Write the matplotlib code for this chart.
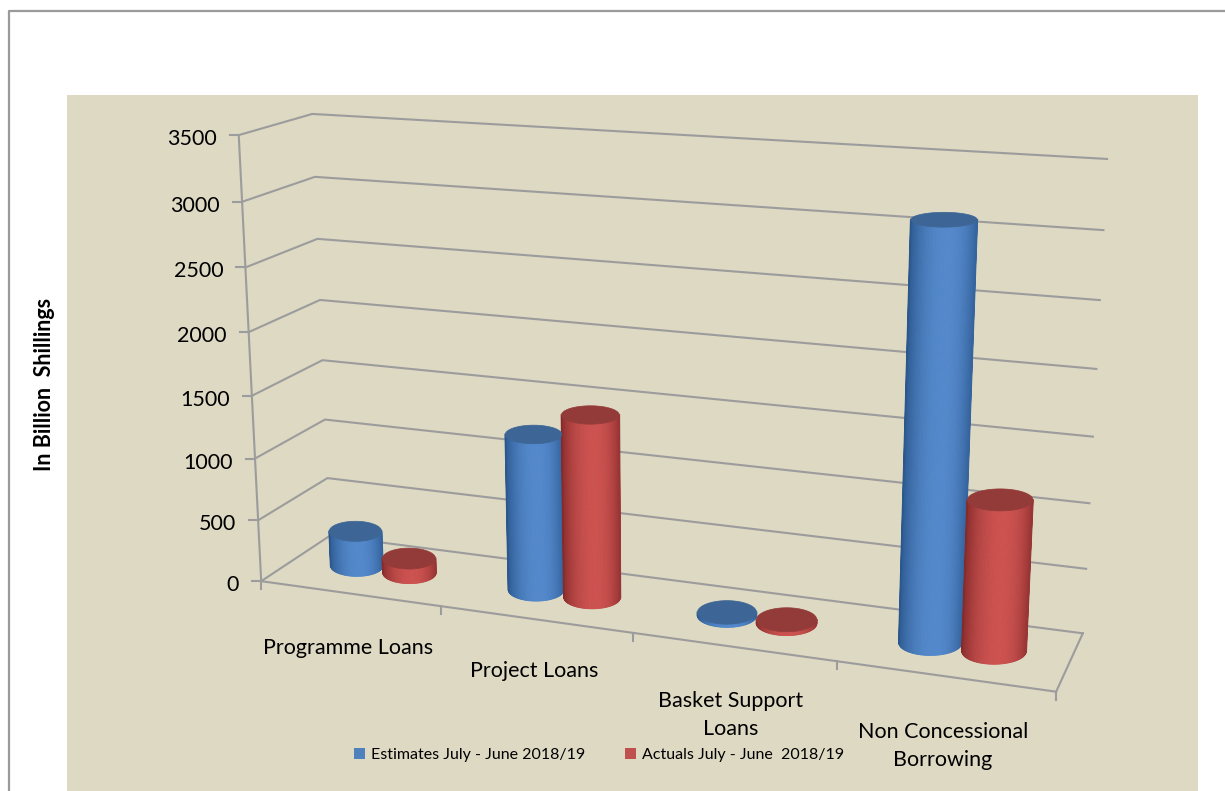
import numpy as np
import matplotlib
matplotlib.use('Agg')
import matplotlib.pyplot as plt
from matplotlib.collections import PolyCollection
from matplotlib.patches import Patch, Polygon, Rectangle

plt.rcParams['font.family'] = ['Lato', 'DejaVu Sans']

W, H = 1225, 791

categories = ['Programme Loans', 'Project Loans', 'Basket Support\nLoans', 'Non Concessional\nBorrowing']
estimates = [290, 1250, 25, 3110]
actuals = [120, 1450, 30, 1140]
series_names = ['Estimates July - June 2018/19', 'Actuals July - June  2018/19']
z_ticks = [0, 500, 1000, 1500, 2000, 2500, 3000, 3500]
y_title = 'In Billion  Shillings'

# where each category label sits on the canvas
label_xy = [(348, 648), (534, 671), (731, 715), (943, 746)]

# camera: (category, depth, value) -> canvas pixel, solved from the box corners
corners = [((0, 0, 0), (262, 581)), ((0, 0, 3500), (238, 135)),
           ((0, 1, 0), (329, 536)), ((0, 1, 3500), (313, 114)),
           ((4, 1, 0), (1083, 633)), ((4, 1, 3500), (1107, 159)),
           ((4, 0, 0), (1056, 692))]


def solve_camera(pairs):
    A, b = [], []
    for (x, d, z), (u, v) in pairs:
        z = z / 3500.0
        A.append([x, d, z, 1, 0, 0, 0, 0, -u * x, -u * d, -u * z])
        b.append(u)
        A.append([0, 0, 0, 0, x, d, z, 1, -v * x, -v * d, -v * z])
        b.append(v)
    m = np.linalg.lstsq(np.array(A, float), np.array(b, float), rcond=None)[0]
    return np.append(m, 1.0).reshape(3, 4)


CAM = solve_camera(corners)


def project(x, d, z):
    p = CAM @ np.array([x, d, z / 3500.0, 1.0])
    return p[0] / p[2], p[1] / p[2]


def shade(t, light, dark, peak=0.15):
    # t runs -1..1 across the cylinder, brightest a little right of centre
    s = np.clip(1 - ((t - peak) / (1.15 if t < peak else 0.95)) ** 2, 0, 1) ** 0.8
    return tuple(np.array(dark) * (1 - s) + np.array(light) * s)


def ellipse_size(x, z):
    rx = (project(x + RADIUS, 0.5, z)[0] - project(x - RADIUS, 0.5, z)[0]) / 2
    return rx, rx * (0.40 - 0.17 * z / 3000.0)


def draw_cylinder(ax, x, value, light, dark, top):
    bx, by = project(x, 0.5, 0)
    tx, ty = project(x, 0.5, value)
    brx, bry = ellipse_size(x, 0)
    trx, try_ = ellipse_size(x, value)
    angles = np.linspace(np.pi, 0, 71)
    quads, colours = [], []
    for a0, a1 in zip(angles[:-1], angles[1:]):
        c0, c1 = np.cos(a0), np.cos(a1)
        s0, s1 = np.sin(a0), np.sin(a1)
        quads.append([(tx + trx * c0, ty + try_ * s0), (tx + trx * c1, ty + try_ * s1),
                      (bx + brx * c1, by + bry * s1), (bx + brx * c0, by + bry * s0)])
        colours.append(shade((c0 + c1) / 2, light, dark))
    side = PolyCollection(quads, facecolors=colours, edgecolors=colours, linewidths=0.6, zorder=4)
    side.set_snap(False)
    ax.add_collection(side)
    # strips leave a jittery silhouette, so run a clean line down each side
    ax.plot([tx - trx, bx - brx], [ty, by], color=colours[0], lw=1.2, zorder=4, snap=False)
    ax.plot([tx + trx, bx + brx], [ty, by], color=colours[-1], lw=1.2, zorder=4, snap=False)
    a = np.linspace(0, 2 * np.pi, 90)
    ax.add_patch(Polygon(np.c_[tx + trx * np.cos(a), ty + try_ * np.sin(a)],
                         facecolor=top, edgecolor=top, lw=0.5, zorder=5, snap=False))


RADIUS = 0.15
OFFSET = 0.15
GRID = '#9c9c9c'
BLUE = ((0.325, 0.535, 0.80), (0.17, 0.34, 0.55), '#3d6595')
RED = ((0.80, 0.32, 0.31), (0.52, 0.17, 0.17), '#933b39')

fig = plt.figure(figsize=(W / 100, H / 100), dpi=100, facecolor='white')
ax = fig.add_axes([0, 0, 1, 1])
ax.set_xlim(0, W)
ax.set_ylim(H, 0)
ax.axis('off')

# page frame and chart panel
ax.plot([9, 9, W], [H, 11, 11], color='#9a9a9a', lw=1.6, zorder=1)
ax.add_patch(Rectangle((67, 95), 1131, H - 95, facecolor='#ddd9c3', edgecolor='none', zorder=1))

# walls: one bent line per value tick
for z in z_ticks:
    pts = [project(0, 0, z), project(0, 1, z), project(4, 1, z)]
    ax.plot(*zip(*pts), color=GRID, lw=1.5, zorder=2)
    x0, y0 = pts[0]
    ax.plot([x0 - 9, x0], [y0, y0], color=GRID, lw=1.5, zorder=2)
    ax.text(x0 - 22, y0 + 4, str(z), ha='right', va='center', fontsize=15.5, color='black', zorder=6)

ax.plot(*zip(project(0, 0, 0), project(0, 0, 3500)), color=GRID, lw=1.5, zorder=2)

# floor front edge and right edge, with category ticks
ax.plot(*zip(project(0, 0, 0), project(4, 0, 0)), color=GRID, lw=1.5, zorder=2)
ax.plot(*zip(project(4, 0, 0), project(4, 1, 0)), color=GRID, lw=1.5, zorder=2)
for i in range(len(categories) + 1):
    x0, y0 = project(i, 0, 0)
    ax.plot([x0, x0], [y0, y0 + 8], color=GRID, lw=1.5, zorder=2)

for i in range(len(categories)):
    draw_cylinder(ax, i + 0.5 - OFFSET, estimates[i], *BLUE)
    draw_cylinder(ax, i + 0.5 + OFFSET, actuals[i], *RED)

for name, (lx, ly) in zip(categories, label_xy):
    ax.text(lx, ly, name, ha='center', va='center', fontsize=15.5, color='black',
            linespacing=1.5, zorder=6)

ax.text(45, 384, y_title, rotation=90, ha='center', va='center', fontsize=15.5,
        fontweight='bold', color='black', zorder=6)

handles = [Patch(facecolor='#4f81bd'), Patch(facecolor='#c0504d')]
ax.legend(handles, series_names, ncol=2, frameon=False, loc='center',
          bbox_to_anchor=(599, 755), bbox_transform=ax.transData, fontsize=11.5,
          handlelength=0.7, handleheight=0.7, handletextpad=0.35, columnspacing=2.5)

fig.savefig('out.png', dpi=100, facecolor='white')
